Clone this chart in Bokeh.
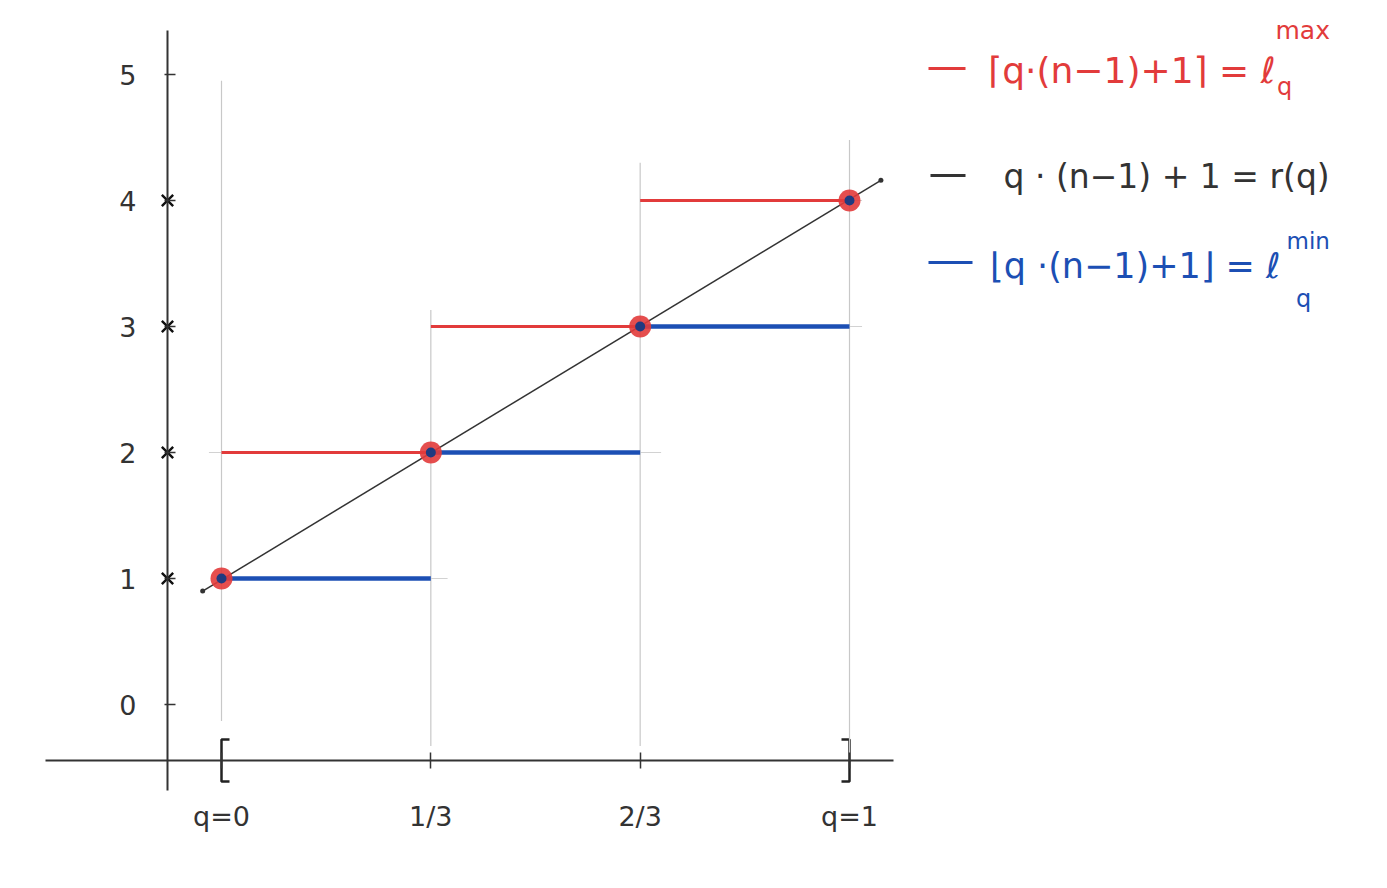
from bokeh.plotting import figure
from bokeh.models import Range1d, FixedTicker
from bokeh.embed import file_html
from bokeh.resources import INLINE
from bokeh.core.properties import value

# ---------------- data ----------------
q_ticks = [0, 1/3, 2/3, 1]
q_tick_labels = ["q=0", "1/3", "2/3", "q=1"]
y_ticks = [0, 1, 2, 3, 4, 5]
y_cross_ticks = [1, 2, 3, 4]
r_points = [1, 2, 3, 4]            # r(q) at q = 0, 1/3, 2/3, 1
ceil_levels = [2, 3, 4]            # ceil(q(n-1)+1) on each interval
floor_levels = [1, 2, 3]           # floor(q(n-1)+1) on each interval
r_line_q = [-0.03, 1.05]
r_line_vals = [0.90, 4.16]
guide_tops = [4.95, 3.13, 4.30, 4.48]
guide_bottoms = [-0.13, -0.33, -0.33, -0.44]
hguide_levels = [1, 2, 3, 4]
hguide_start = [0.0, -0.02, 0.333, 0.667]
hguide_end = [0.36, 0.70, 1.02, 1.02]

legend_main = ["⌈q·(n−1)+1⌉ = ℓ", "q · (n−1) + 1  =  r(q)", "⌊q ·(n−1)+1⌋ = ℓ"]
legend_sup = ["max", "", "min"]
legend_sub = ["q", "", "q"]

RED = "#e23b3b"
BLUE = "#1c4fb4"
BLACK = "#333333"
NAVY = "#1f3a80"
FONT = value("DejaVu Sans")

W, H = 1371, 872
# pixel mapping (screenshot coords): q=0 at 221, q=1 at 849 ; y=0 at 704, y=5 at 74
px_per_q = 628.0
px_per_y = 126.0
x0_page, y0_page = 221.0, 704.0

def qx(px):
    return (px - x0_page) / px_per_q

def vy(py):
    return (y0_page - py) / px_per_y

p = figure(width=W, height=H, output_backend="svg", toolbar_location=None,
           x_range=Range1d(qx(0), qx(W)), y_range=Range1d(vy(H), vy(0)),
           min_border=0, outline_line_color=None, background_fill_color="white",
           border_fill_color="white")
p.title.visible = False
p.xgrid.visible = False
p.ygrid.visible = False

# ---- axes crossing inside the frame ----
p.xaxis.fixed_location = vy(760)
p.yaxis.fixed_location = qx(167)
p.xaxis.bounds = (qx(45), qx(893))
p.yaxis.bounds = (vy(790), vy(30))
p.xaxis.ticker = FixedTicker(ticks=q_ticks)
p.xaxis.major_label_overrides = {t: l for t, l in zip(q_ticks, q_tick_labels)}
p.yaxis.ticker = FixedTicker(ticks=y_ticks)
for ax in (p.xaxis, p.yaxis):
    ax.axis_line_color = BLACK
    ax.axis_line_width = 2
    ax.major_tick_line_color = BLACK
    ax.major_tick_line_width = 1.5
    ax.minor_tick_line_color = None
    ax.major_label_text_font = "DejaVu Sans"
    ax.major_label_text_font_size = "27px"
    ax.major_label_text_color = "#333333"
p.xaxis.major_tick_in = 8
p.xaxis.major_tick_out = 8
p.xaxis.major_label_standoff = 32
p.yaxis.major_tick_in = 8
p.yaxis.major_tick_out = 3
p.yaxis.major_label_standoff = 28

# cross marks on the y axis
p.scatter([p.yaxis[0].fixed_location] * len(y_cross_ticks), y_cross_ticks,
          marker="x", size=16, line_color="#111111", line_width=2.4)

# brackets at q=0 and q=1
xa = p.xaxis[0].fixed_location
bh = 21 / px_per_y
hw = 8 / px_per_q
p.multi_line(
    xs=[[q_ticks[0] + hw, q_ticks[0], q_ticks[0], q_ticks[0] + hw],
        [q_ticks[-1] - hw, q_ticks[-1], q_ticks[-1], q_ticks[-1] - hw]],
    ys=[[xa + bh, xa + bh, xa - bh, xa - bh]] * 2,
    line_color="#222222", line_width=2.5)

# ---- faint guide lines ----
p.segment(x0=q_ticks, y0=guide_bottoms, x1=q_ticks, y1=guide_tops,
          line_color="#c8c8c8", line_width=1.2)
p.segment(x0=hguide_start, y0=hguide_levels, x1=hguide_end, y1=hguide_levels,
          line_color="#d2d2d2", line_width=1.2)

# ---- step functions ----
p.segment(x0=q_ticks[:-1], y0=ceil_levels, x1=q_ticks[1:], y1=ceil_levels,
          line_color=RED, line_width=3)
p.segment(x0=q_ticks[:-1], y0=floor_levels, x1=q_ticks[1:], y1=floor_levels,
          line_color=BLUE, line_width=4.5)

# ---- r(q) line ----
p.line(r_line_q, r_line_vals, line_color=BLACK, line_width=1.5)
p.scatter(r_line_q, r_line_vals, size=5, fill_color=BLACK, line_color=None)

# ---- points ----
p.scatter(q_ticks, r_points, size=22, fill_color=RED, line_color=None, fill_alpha=0.9)
p.scatter(q_ticks, r_points, size=10, fill_color=NAVY, line_color=None)

# ---- legend (hand-made) ----
leg_colors = [RED, BLACK, BLUE]
leg_y = [vy(68), vy(175), vy(262)]
leg_x0 = [qx(928), qx(930), qx(928)]
leg_x1 = [qx(965), qx(965), qx(972)]
p.segment(x0=leg_x0, y0=leg_y, x1=leg_x1, y1=leg_y, line_color=leg_colors, line_width=3)

# red
p.text(x=[qx(1275)], y=[vy(70)], text=[legend_main[0]], text_color=RED, text_font=FONT,
       text_font_size="36px", text_align="right", text_baseline="middle")
p.text(x=[qx(1275)], y=[vy(30)], text=[legend_sup[0]], text_color=RED, text_font=FONT,
       text_font_size="25px", text_align="left", text_baseline="middle")
p.text(x=[qx(1284)], y=[vy(86)], text=[legend_sub[0]], text_color=RED, text_font=FONT,
       text_font_size="24px", text_align="center", text_baseline="middle")
# black
p.text(x=[qx(1003)], y=[vy(176)], text=[legend_main[1]], text_color=BLACK, text_font=FONT,
       text_font_size="33px", text_align="left", text_baseline="middle")
# blue
p.text(x=[qx(1280)], y=[vy(265)], text=[legend_main[2]], text_color=BLUE, text_font=FONT,
       text_font_size="35px", text_align="right", text_baseline="middle")
p.text(x=[qx(1286)], y=[vy(240)], text=[legend_sup[2]], text_color=BLUE, text_font=FONT,
       text_font_size="23px", text_align="left", text_baseline="middle")
p.text(x=[qx(1303)], y=[vy(298)], text=[legend_sub[2]], text_color=BLUE, text_font=FONT,
       text_font_size="24px", text_align="center", text_baseline="middle")

open("out.html", "w").write(file_html(p, INLINE))
